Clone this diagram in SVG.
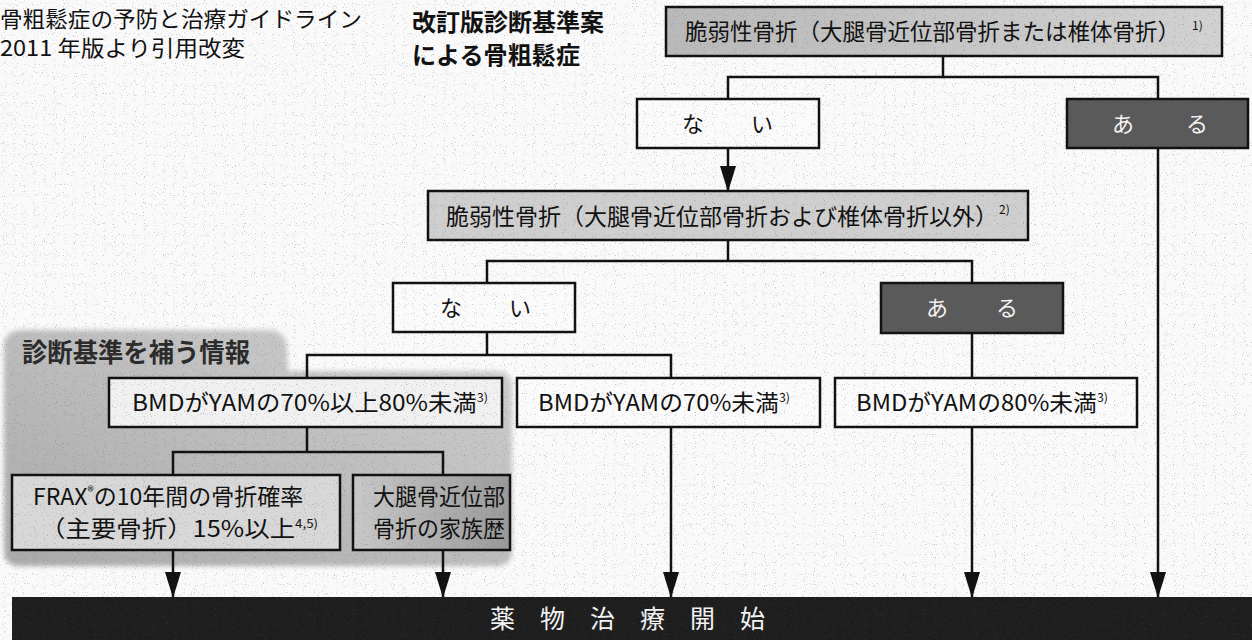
<svg xmlns="http://www.w3.org/2000/svg" width="1252" height="640" viewBox="0 0 1252 640">
<defs>
  <style>
    .t { font-family: "Noto Sans CJK JP", "Liberation Sans", sans-serif; fill: #111; }
    .wt { fill: #f4f4f4; }
    .tt { fill: #2b2b2b; }
    .box { stroke: #111; stroke-width: 2.5; }
    .ln { stroke: #111; stroke-width: 2.5; fill: none; }
    .w { fill: #fbfbfb; }
    .lg { fill: #cfcfcf; }
    .dk { fill: #5a5a5a; }
    .sup { font-size: 12px; }
  </style>
  <marker id="arr" viewBox="0 0 26 16" refX="25" refY="8" markerWidth="26" markerHeight="16" markerUnits="userSpaceOnUse" orient="auto">
    <path d="M0,0 L26,8 L0,16 Z" fill="#111"/>
  </marker>
  <linearGradient id="topg" x1="0" y1="0" x2="1" y2="0">
    <stop offset="0" stop-color="#b9b9b9"/>
    <stop offset="1" stop-color="#d2d2d2"/>
  </linearGradient>
  <linearGradient id="regiong" x1="0" y1="1" x2="1" y2="0">
    <stop offset="0" stop-color="#a9a9a9"/>
    <stop offset="1" stop-color="#d0d0d0"/>
  </linearGradient>
  <linearGradient id="famg" x1="0" y1="0" x2="1" y2="0">
    <stop offset="0" stop-color="#c8c8c8"/>
    <stop offset="1" stop-color="#9a9a9a"/>
  </linearGradient>
  <filter id="soft" x="-5%" y="-5%" width="110%" height="110%">
    <feGaussianBlur stdDeviation="2.5"/>
  </filter>
  <filter id="noise" x="0" y="0" width="100%" height="100%">
    <feTurbulence type="fractalNoise" baseFrequency="0.9" numOctaves="1" seed="7" result="t"/>
    <feColorMatrix type="matrix" values="0 0 0 0 0.1  0 0 0 0 0.1  0 0 0 0 0.1  8 0 0 0 -5"/>
  </filter>
</defs>

<rect x="0" y="0" width="1252" height="640" fill="#fafafa"/>

<!-- shaded supplementary region -->
<g id="supp-region">
  <path d="M4,348 Q4,330 22,330 L268,330 Q286,330 287,348 L288,371 L496,371 Q512,371 512,387 L512,550 Q512,566 496,566 L20,566 Q4,566 4,550 Z" fill="url(#regiong)" filter="url(#soft)"/>
  <text class="t tt" x="22" y="362" font-size="26" font-weight="bold" textLength="228" lengthAdjust="spacingAndGlyphs">診断基準を補う情報</text>
</g>

<!-- headers -->
<g id="header-source">
  <text class="t" x="0" y="27" font-size="22" textLength="362" lengthAdjust="spacingAndGlyphs">骨粗鬆症の予防と治療ガイドライン</text>
  <text class="t" x="0" y="56" font-size="22" textLength="245" lengthAdjust="spacingAndGlyphs">2011 年版より引用改変</text>
</g>
<g id="header-title">
  <text class="t" x="412" y="31" font-size="24" font-weight="bold" textLength="192" lengthAdjust="spacingAndGlyphs">改訂版診断基準案</text>
  <text class="t" x="412" y="64" font-size="24" font-weight="bold" textLength="168" lengthAdjust="spacingAndGlyphs">による骨粗鬆症</text>
</g>

<!-- connectors -->
<g id="connectors">
  <polyline class="ln" points="943,56 943,77"/>
  <polyline class="ln" points="728,99 728,77 1158,77 1158,99"/>
  <line class="ln" x1="728" y1="148" x2="728" y2="191" marker-end="url(#arr)"/>
  <polyline class="ln" points="728,240 728,261"/>
  <polyline class="ln" points="487,283 487,261 972,261 972,283"/>
  <polyline class="ln" points="487,332 487,355"/>
  <polyline class="ln" points="307,378 307,355 671,355 671,378"/>
  <line class="ln" x1="972" y1="333" x2="972" y2="378"/>
  <polyline class="ln" points="307,427 307,452"/>
  <polyline class="ln" points="173,475 173,452 443,452 443,475"/>
  <line class="ln" x1="173" y1="550" x2="173" y2="597" marker-end="url(#arr)"/>
  <line class="ln" x1="443" y1="550" x2="443" y2="597" marker-end="url(#arr)"/>
  <line class="ln" x1="671" y1="427" x2="671" y2="597" marker-end="url(#arr)"/>
  <line class="ln" x1="972" y1="427" x2="972" y2="597" marker-end="url(#arr)"/>
  <line class="ln" x1="1158" y1="148" x2="1158" y2="597" marker-end="url(#arr)"/>
</g>

<!-- nodes -->
<g id="n-fragile-major">
  <rect class="box" x="666" y="7" width="556" height="49" fill="url(#topg)"/>
  <text class="t" x="685" y="40" font-size="22.5">脆弱性骨折（大腿骨近位部骨折または椎体骨折）</text>
  <text class="t sup" x="1192" y="30">1)</text>
</g>
<g id="n-nai-1">
  <rect class="box w" x="637" y="99" width="182" height="49"/>
  <text class="t" x="682" y="132" font-size="22">な</text>
  <text class="t" x="751" y="132" font-size="22">い</text>
</g>
<g id="n-aru-1">
  <rect class="box dk" x="1067" y="99" width="181" height="49"/>
  <text class="t wt" x="1112" y="132" font-size="22">あ</text>
  <text class="t wt" x="1186" y="132" font-size="22">る</text>
</g>
<g id="n-fragile-other">
  <rect class="box lg" x="428" y="191" width="600" height="49"/>
  <text class="t" x="446" y="225" font-size="23">脆弱性骨折（大腿骨近位部骨折および椎体骨折以外）</text>
  <text class="t sup" x="999" y="214">2)</text>
</g>
<g id="n-nai-2">
  <rect class="box w" x="393" y="283" width="182" height="49"/>
  <text class="t" x="440" y="316" font-size="22">な</text>
  <text class="t" x="509" y="316" font-size="22">い</text>
</g>
<g id="n-aru-2">
  <rect class="box dk" x="881" y="283" width="182" height="50"/>
  <text class="t wt" x="926" y="316" font-size="22">あ</text>
  <text class="t wt" x="996" y="316" font-size="22">る</text>
</g>
<g id="n-bmd-70-80">
  <rect class="box" x="109" y="378" width="393" height="49" fill="#f1f1f1"/>
  <text class="t" x="132" y="411" font-size="23" textLength="356" lengthAdjust="spacingAndGlyphs">BMDがYAMの70%以上80%未満<tspan font-size="12" baseline-shift="9">3)</tspan></text>
</g>
<g id="n-bmd-70">
  <rect class="box w" x="517" y="378" width="303" height="49"/>
  <text class="t" x="538" y="411" font-size="23" textLength="252" lengthAdjust="spacingAndGlyphs">BMDがYAMの70%未満<tspan font-size="12" baseline-shift="9">3)</tspan></text>
</g>
<g id="n-bmd-80">
  <rect class="box w" x="835" y="378" width="302" height="49"/>
  <text class="t" x="856" y="411" font-size="23" textLength="252" lengthAdjust="spacingAndGlyphs">BMDがYAMの80%未満<tspan font-size="12" baseline-shift="9">3)</tspan></text>
</g>
<g id="n-frax">
  <rect class="box" x="12" y="475" width="328" height="75" fill="#d8d8d8"/>
  <text class="t" x="33" y="505" font-size="23">FRAX<tspan font-size="13" baseline-shift="9">®</tspan>の10年間の骨折確率</text>
  <text class="t" x="40" y="537" font-size="23" textLength="278" lengthAdjust="spacingAndGlyphs">（主要骨折）15%以上<tspan font-size="12" baseline-shift="9">4,5)</tspan></text>
</g>
<g id="n-family">
  <rect class="box" x="353" y="475" width="157" height="75" fill="url(#famg)"/>
  <text class="t" x="373" y="505" font-size="23" textLength="132" lengthAdjust="spacingAndGlyphs">大腿骨近位部</text>
  <text class="t" x="373" y="537" font-size="23" textLength="132" lengthAdjust="spacingAndGlyphs">骨折の家族歴</text>
</g>
<g id="n-treatment">
  <rect x="12" y="597" width="1240" height="43" fill="#1e1e1e"/>
  <text class="t wt" x="490" y="628" font-size="25" letter-spacing="25">薬物治療開始</text>
</g>

<rect x="0" y="0" width="1252" height="640" filter="url(#noise)" opacity="0.3" pointer-events="none"/>
</svg>
